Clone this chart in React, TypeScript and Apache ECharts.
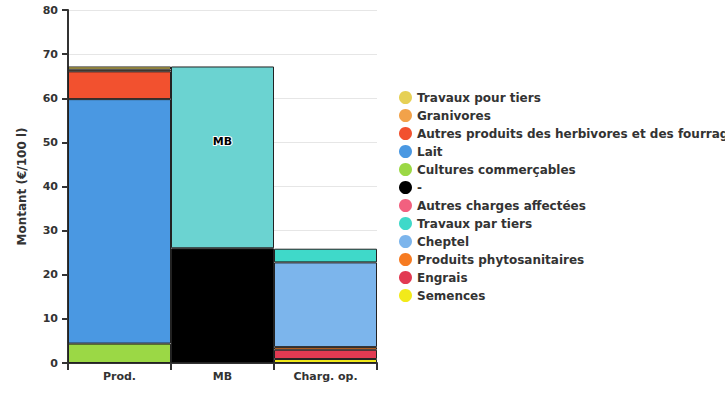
import React, { useEffect, useRef } from "react";
import * as echarts from "echarts";

const categories = ["Prod.", "MB", "Charg. op."];
const yTicks = [0, 10, 20, 30, 40, 50, 60, 70, 80];

// series in stacking order (bottom to top)
const seriesNames = [
  "Semences",
  "Engrais",
  "Produits phytosanitaires",
  "Cheptel",
  "Travaux par tiers",
  "Autres charges affectées",
  "-",
  "MB",
  "Cultures commerçables",
  "Lait",
  "Autres produits des herbivores et des fourrages",
  "Granivores",
  "Travaux pour tiers",
];
const seriesValues: (number | null)[][] = [
  [null, null, 0.9],
  [null, null, 2.1],
  [null, null, 0.6],
  [null, null, 19.2],
  [null, null, 3.1],
  [null, null, null],
  [null, 26.0, null],
  [null, 41.2, null],
  [4.4, null, null],
  [55.4, null, null],
  [6.3, null, null],
  [0.4, null, null],
  [0.7, null, null],
];
const seriesColors = [
  "#f2ea1a",
  "#e23a52",
  "#f67b22",
  "#7cb5ec",
  "#3fd9c9",
  "#f2607f",
  "#000000",
  "#6bd3d1",
  "#9bd845",
  "#4a98e2",
  "#f2512f",
  "#f2a24a",
  "#e6d055",
];
const legendOrder = [
  "Travaux pour tiers",
  "Granivores",
  "Autres produits des herbivores et des fourrages",
  "Lait",
  "Cultures commerçables",
  "-",
  "Autres charges affectées",
  "Travaux par tiers",
  "Cheptel",
  "Produits phytosanitaires",
  "Engrais",
  "Semences",
];

const FONT = "DejaVu Sans";

export default function App() {
  const ref = useRef<HTMLDivElement>(null);
  useEffect(() => {
    if (!ref.current) return;
    const chart = echarts.init(ref.current, undefined, { renderer: "svg" });
    chart.setOption({
      animation: false,
      textStyle: { fontFamily: FONT },
      grid: { left: 68, right: 348, top: 10, bottom: 37 },
      legend: {
        data: legendOrder,
        orient: "vertical",
        left: 399,
        top: 91,
        padding: 0,
        icon: "circle",
        itemWidth: 13,
        itemHeight: 13,
        itemGap: 5,
        itemStyle: { borderWidth: 0 },
        textStyle: {
          fontFamily: FONT,
          fontWeight: "bold",
          fontSize: 12,
          color: "#333",
          width: 400,
          overflow: "none",
        },
      },
      xAxis: {
        type: "category",
        data: categories,
        axisLine: { lineStyle: { color: "#333", width: 2 } },
        axisTick: { show: true, length: 7, lineStyle: { color: "#333", width: 2 } },
        axisLabel: { fontFamily: FONT, fontWeight: "bold", fontSize: 11, color: "#333", margin: 8 },
      },
      yAxis: {
        type: "value",
        min: 0,
        max: 80,
        interval: 10,
        name: "Montant (€/100 l)",
        nameLocation: "middle",
        nameGap: 40,
        nameTextStyle: { fontFamily: FONT, fontWeight: "bold", fontSize: 12, color: "#333" },
        axisLine: { show: true, lineStyle: { color: "#333", width: 2 } },
        axisTick: { show: true, length: 6, lineStyle: { color: "#333", width: 2 } },
        axisLabel: {
          fontFamily: FONT,
          fontWeight: "bold",
          fontSize: 11,
          color: "#333",
          margin: 10,
          formatter: (v: number) => (yTicks.includes(v) ? String(v) : ""),
        },
        splitLine: { lineStyle: { color: "#e6e6e6" } },
      },
      series: seriesNames.map((name, i) => ({
        name,
        type: "bar",
        stack: "total",
        barWidth: "100%",
        barCategoryGap: "0%",
        data: seriesValues[i],
        itemStyle: { color: seriesColors[i], borderColor: "#222", borderWidth: 1 },
        label:
          name === "MB"
            ? {
                show: true,
                position: "inside",
                offset: [0, -16],
                formatter: "MB",
                fontFamily: FONT,
                fontWeight: "bold",
                fontSize: 11,
                color: "#000",
                textBorderColor: "#fff",
                textBorderWidth: 2,
              }
            : { show: false },
      })),
    });
    return () => chart.dispose();
  }, []);
  return (
    <div
      ref={ref}
      style={{ position: "absolute", left: 0, top: 0, width: 725, height: 400 }}
    />
  );
}
